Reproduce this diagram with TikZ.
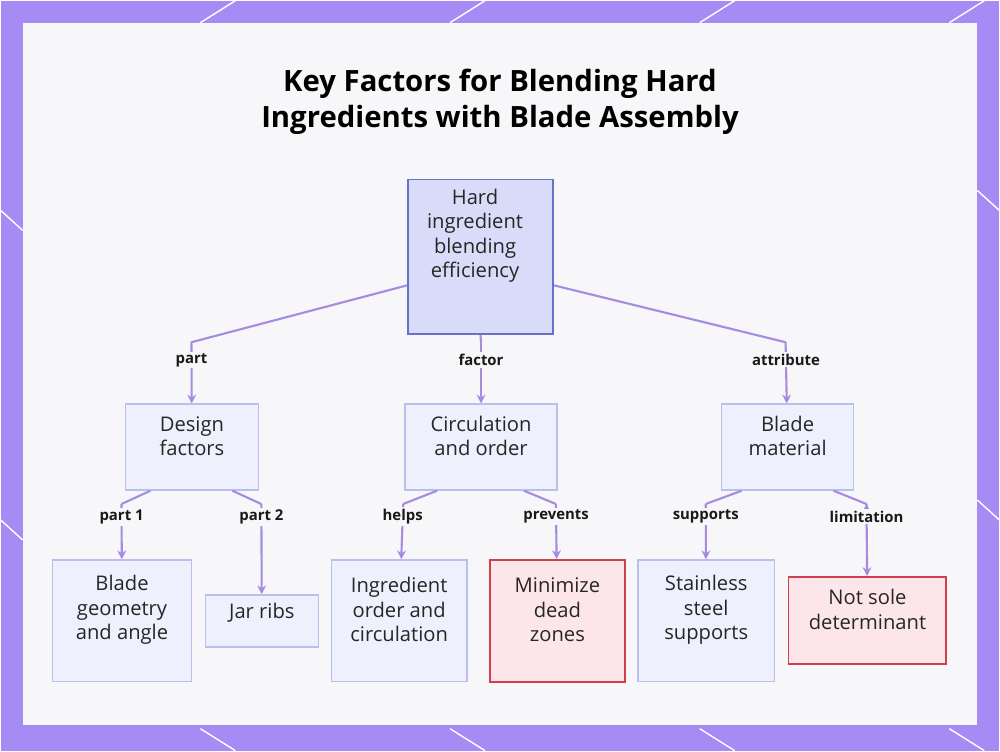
\documentclass[tikz,border=0pt]{standalone}
\usepackage{fontspec}
\setmainfont{Open Sans}
\usetikzlibrary{arrows.meta}
\definecolor{bgpurple}{HTML}{A78BF5}
\definecolor{panel}{HTML}{F7F7F9}
\definecolor{rootfill}{HTML}{D9DCF8}
\definecolor{rootline}{HTML}{6970C9}
\definecolor{boxfill}{HTML}{EEF1FD}
\definecolor{boxline}{HTML}{B9C0EE}
\definecolor{warnfill}{HTML}{FDE6EA}
\definecolor{warnline}{HTML}{D0404C}
\definecolor{linkcol}{HTML}{A68BE0}
\tikzset{
  box/.style={draw=boxline, fill=boxfill, line width=0.8pt, inner sep=0pt},
  warn/.style={box, draw=warnline, fill=warnfill, line width=1pt},
  txt/.style={align=center, font=\fontsize{11.5}{14}\selectfont, text=black!85, inner sep=0pt},
  link/.style={draw=linkcol, line width=1.2pt},
  tag/.style={font=\bfseries\fontsize{8.5}{10}\selectfont, fill=panel, inner sep=1pt, text=black!90},
}
\newcommand{\boxtext}[3]{\node[txt] (#1) at ([yshift=0.22cm]#2.center) {#3};}
\begin{document}
\begin{tikzpicture}[x=0.02cm, y=-0.02cm]
		\fill[bgpurple] (0,0) rectangle (1000,751);
		\foreach \a/\b in {0/0, 250/0, 500/0, 750/0}
		  \draw[white, line width=0.8pt] (\a+200,22) -- (\a+235,0) (\a+200,729) -- (\a+235,751);
		\draw[white, line width=0.8pt] (0,210) -- (22,230) (0,520) -- (22,540) (978,190) -- (1000,210) (978,500) -- (1000,520);
		\fill[panel] (22,22) rectangle (978,725);
		\useasboundingbox (0,0) rectangle (1000,751);
		\node[font=\bfseries\fontsize{16.7}{20.5}\selectfont, align=center] (title) at (500,101)
		  {Key Factors for Blending Hard\\Ingredients with Blade Assembly};
		%
		\node[box, draw=rootline, fill=rootfill, line width=1pt, minimum width=2.9cm, minimum height=3.1cm] (R) at (480.5,256.5) {};
		\node[txt, anchor=north] (Rt) at (475,188) {Hard\\ingredient\\blending\\efficiency};
		\node[box, minimum width=2.66cm, minimum height=1.72cm] (D) at (191.5,447) {};
		\node[box, minimum width=3.04cm, minimum height=1.72cm] (C) at (481,447) {};
		\node[box, minimum width=2.64cm, minimum height=1.72cm] (M) at (788,447) {};
		\node[box, minimum width=2.78cm, minimum height=2.44cm] (D1) at (121.5,621) {};
		\node[box, minimum width=2.26cm, minimum height=1.04cm] (D2) at (261.5,621) {};
		\node[box, minimum width=2.72cm, minimum height=2.44cm] (C1) at (399,621) {};
		\node[warn, minimum width=2.7cm, minimum height=2.44cm] (C2) at (557.5,621) {};
		\node[box, minimum width=2.74cm, minimum height=2.44cm] (M1) at (706.5,621) {};
		\node[warn, minimum width=3.16cm, minimum height=1.74cm] (M2) at (868,620.5) {};
		\boxtext{Dt}{D}{Design\\factors}
		\boxtext{Ct}{C}{Circulation\\and order}
		\boxtext{Mt}{M}{Blade\\material}
		\boxtext{D1t}{D1}{Blade\\geometry\\and angle}
		\node[txt] (D2t) at ([yshift=0.16cm]D2.center) {Jar ribs};
		\boxtext{C1t}{C1}{Ingredient\\order and\\circulation}
		\boxtext{C2t}{C2}{Minimize\\dead\\zones}
		\boxtext{M1t}{M1}{Stainless\\steel\\supports}
		\boxtext{M2t}{M2}{Not sole\\determinant}
		%
		\coordinate (rd) at (191,342); \coordinate (rc) at (481,342); \coordinate (rm) at (786,342);
		\coordinate (d1) at (121,504); \coordinate (d2) at (261,504);
		\coordinate (c1) at (403,504); \coordinate (c2) at (556,504);
		\coordinate (m1) at (706,504); \coordinate (m2) at (867,504);
		\path[link]
		([yshift=-0.57cm]R.west) -- (rd)
		(R.south) -- (rc)
		([yshift=-0.57cm]R.east) -- (rm)
		([xshift=-0.83cm]D.south) -- (d1)
		([xshift=0.81cm]D.south) -- (d2)
		([xshift=-0.88cm]C.south) -- (c1)
		([xshift=0.86cm]C.south) -- (c2)
		([xshift=-0.92cm]M.south) -- (m1)
		([xshift=0.92cm]M.south) -- (m2);
		\path[link, -{Stealth[length=5pt,width=5pt]}]
		(rd) edge node[tag, pos=0.29]{part} (D)
		(rc) edge node[tag, pos=0.29]{factor} (C)
		(rm) edge node[tag, pos=0.29]{attribute} (M)
		(d1) edge node[tag, pos=0.23]{part 1} (D1)
		(d2) edge node[tag, pos=0.14]{part 2} (D2)
		(c1) edge node[tag, pos=0.23]{helps} (C1)
		(c2) edge node[tag, pos=0.23]{prevents} (C2)
		(m1) edge node[tag, pos=0.23]{supports} (M1)
		(m2) edge node[tag, pos=0.18]{limitation} (M2);
\end{tikzpicture}
\end{document}
